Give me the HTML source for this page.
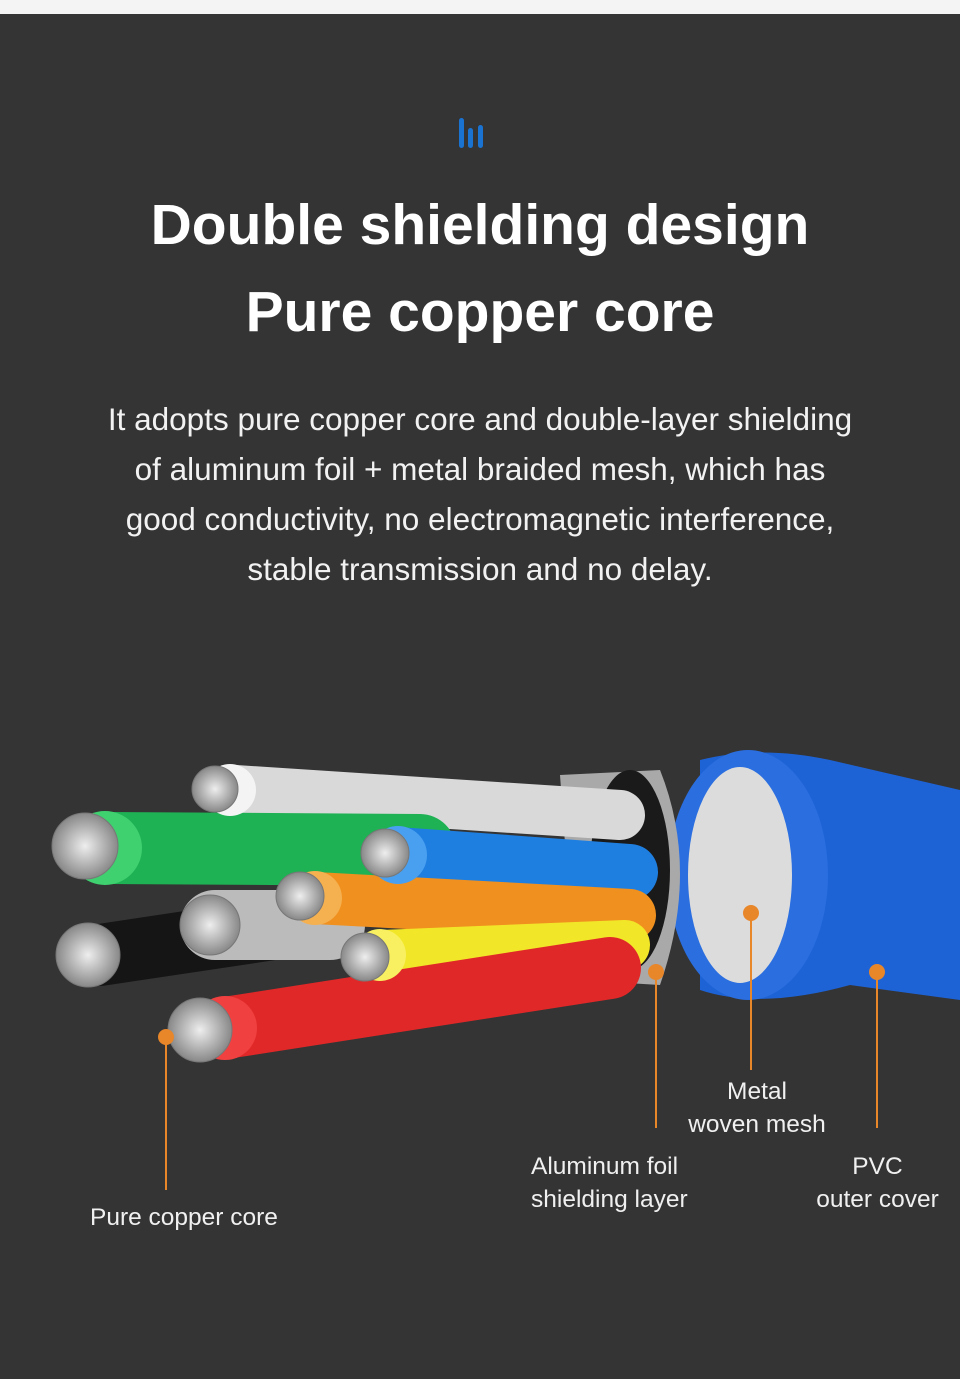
<!DOCTYPE html>
<html><head><meta charset="utf-8"><style>
html,body{margin:0;padding:0;}
body{width:960px;height:1379px;background:#343434;position:relative;overflow:hidden;font-family:"Liberation Sans",sans-serif;color:#fff;}
.top{position:absolute;left:0;top:0;width:960px;height:14px;background:#f4f4f4;}
.t{position:absolute;left:0;width:960px;text-align:center;font-weight:bold;font-size:57px;}
.p{position:absolute;left:0;width:960px;text-align:center;font-size:31.5px;line-height:50px;top:394px;color:#f2f2f2;}
.l{position:absolute;font-size:24.5px;line-height:33px;color:#f0f0f0;}
</style></head><body>
<div class="top"></div>
<svg style="position:absolute;left:457px;top:116px" width="30" height="34">
<rect x="2" y="2" width="5" height="30" rx="2.5" fill="#1a73d1"/>
<rect x="11" y="12" width="5" height="20" rx="2.5" fill="#1a73d1"/>
<rect x="21" y="9" width="5" height="23" rx="2.5" fill="#1a73d1"/>
</svg>
<div class="t" style="top:192px">Double shielding design</div>
<div class="t" style="top:279px">Pure copper core</div>
<div class="p">It adopts pure copper core and double-layer shielding<br>of aluminum foil + metal braided mesh, which has<br>good conductivity, no electromagnetic interference,<br>stable transmission and no delay.</div>
<svg style="position:absolute;left:0;top:0" width="960" height="1379">
<defs>
<radialGradient id="core"><stop offset="0" stop-color="#eee"/><stop offset="1" stop-color="#888"/></radialGradient>
</defs>
<path d="M700 760 Q760 745 830 760 L960 790 L960 1000 L850 985 Q760 1010 700 990 Z" fill="#1e63d6"/>
<ellipse cx="748" cy="875" rx="80" ry="125" fill="#2a6ee0"/>
<ellipse cx="740" cy="875" rx="52" ry="108" fill="#dcdcdc"/>
<path d="M560 775 L660 770 Q700 870 660 985 L575 980 Z" fill="#a9a9a9"/>
<ellipse cx="630" cy="870" rx="40" ry="100" fill="#1a1a1a"/>
<g stroke-linecap="round">
<line x1="235" y1="790" x2="620" y2="815" stroke="#d9d9d9" stroke-width="50"/>
<line x1="110" y1="848" x2="420" y2="850" stroke="#1fb254" stroke-width="72"/>
<line x1="398" y1="855" x2="630" y2="872" stroke="#1f7fe0" stroke-width="56"/>
<line x1="100" y1="955" x2="300" y2="925" stroke="#151515" stroke-width="62"/>
<line x1="215" y1="925" x2="330" y2="925" stroke="#bbb" stroke-width="70"/>
<line x1="315" y1="898" x2="630" y2="915" stroke="#f0901e" stroke-width="52"/>
<line x1="380" y1="955" x2="625" y2="945" stroke="#f2e629" stroke-width="50"/>
<line x1="225" y1="1028" x2="610" y2="968" stroke="#e02828" stroke-width="62"/>
</g>
<g>
<circle cx="230" cy="790" r="26" fill="#f4f4f4"/>
<circle cx="105" cy="848" r="37" fill="#3fd070"/>
<circle cx="398" cy="855" r="29" fill="#4aa0f0"/>
<circle cx="315" cy="898" r="27" fill="#f5b050"/>
<circle cx="380" cy="955" r="26" fill="#f8f060"/>
<circle cx="225" cy="1028" r="32" fill="#f04040"/>
</g>
<g fill="url(#core)" stroke="#777" stroke-width="1">
<circle cx="215" cy="789" r="23"/>
<circle cx="85" cy="846" r="33"/>
<circle cx="385" cy="853" r="24"/>
<circle cx="88" cy="955" r="32"/>
<circle cx="210" cy="925" r="30"/>
<circle cx="300" cy="896" r="24"/>
<circle cx="365" cy="957" r="24"/>
<circle cx="200" cy="1030" r="32"/>
</g>
<g stroke="#e8862a" stroke-width="2" fill="#e8862a">
<line x1="166" y1="1037" x2="166" y2="1190"/><circle cx="166" cy="1037" r="7"/>
<line x1="656" y1="972" x2="656" y2="1128"/><circle cx="656" cy="972" r="7"/>
<line x1="751" y1="913" x2="751" y2="1070"/><circle cx="751" cy="913" r="7"/>
<line x1="877" y1="972" x2="877" y2="1128"/><circle cx="877" cy="972" r="7"/>
</g>
</svg>
<div class="l" style="left:90px;top:1201px">Pure copper core</div>
<div class="l" style="left:531px;top:1150px">Aluminum foil<br>shielding layer</div>
<div class="l" style="left:682px;top:1075px;text-align:center;width:150px">Metal<br>woven mesh</div>
<div class="l" style="left:805px;top:1150px;text-align:center;width:145px">PVC<br>outer cover</div>
</body></html>
